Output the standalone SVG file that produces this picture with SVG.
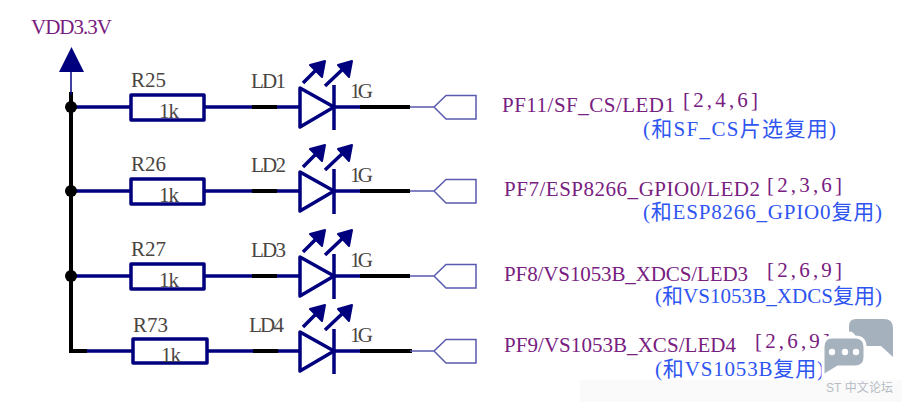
<svg xmlns="http://www.w3.org/2000/svg" xmlns:xlink="http://www.w3.org/1999/xlink" width="902" height="402" viewBox="0 0 902 402">
<style>
text{font-family:"Liberation Serif","Noto Sans CJK SC",serif;font-size:21px}
.n{fill:#78207f}.b{fill:#2f55f0}.l{fill:#4a4542}
.w{stroke:#00007f;stroke-width:3.500;fill:none}
.k{stroke:#000;stroke-width:4;fill:none}
.t{stroke:#5a5aae;stroke-width:1.500;fill:none}
.part{stroke:#00007f;stroke-width:3.500;fill:#fff;stroke-linejoin:round}
.h{fill:#00007f;stroke:#00007f;stroke-width:2;stroke-linejoin:round}
</style>
<defs>
<g id="led">
<path class="part" d="M300 -19L334 0L300 20Z"/>
<path class="w" d="M334 -22V23"/>
<path class="w" d="M303 -24L318 -39M325 -21L344 -39"/>
<path class="h" d="M325 -46L310 -42L322 -30ZM352 -46L338 -42L349 -30Z"/>
</g>
<path id="port" class="t" d="M410 0H434L446 -11.500H476V12H446L434 0"/>
</defs>
<rect width="902" height="402" fill="#fff"/>
<rect x="580" y="380" width="322" height="22" fill="#fafafa"/>
<g id="connectors">
<path class="w" d="M71 107H131M204 107H300M334 107H360"/>
<path class="w" d="M71 191H131M204 191H300M334 191H360"/>
<path class="w" d="M71 276H131M204 276H300M334 276H360"/>
<path class="w" d="M87 351H133M207 351H300M334 351H360"/>
<path class="k" d="M71 92V351H87"/>
<path class="k" d="M252 107H277M360 107H410M252 191H277M360 191H410M252 276H277M360 276H410M253 351H278M360 351H412"/>
<path stroke="#00007f" stroke-width="1.500" fill="none" d="M71 72V95"/>
<circle cx="71" cy="107" r="6"/><circle cx="71" cy="191" r="6"/><circle cx="71" cy="276" r="6"/>
</g>
<g id="vdd">
<path fill="#00007f" d="M71.500 47L59 72H84Z"/>
<text class="n" x="31" y="34" textLength="81">VDD3.3V</text>
</g>
<g id="R25"><rect class="part" x="131" y="95" width="73" height="25"/><text class="l" x="131" y="87" textLength="35">R25</text><text class="l" x="159" y="118" textLength="20">1k</text></g>
<g id="R26"><rect class="part" x="131" y="179" width="73" height="25"/><text class="l" x="131" y="171" textLength="35">R26</text><text class="l" x="159" y="202" textLength="20">1k</text></g>
<g id="R27"><rect class="part" x="131" y="264" width="73" height="25"/><text class="l" x="131" y="256" textLength="35">R27</text><text class="l" x="159" y="287" textLength="20">1k</text></g>
<g id="R73"><rect class="part" x="133" y="339" width="74" height="24"/><text class="l" x="133" y="332" textLength="35">R73</text><text class="l" x="161" y="362" textLength="20">1k</text></g>
<g id="LD1"><use xlink:href="#led" href="#led" y="107"/><text class="l" x="251" y="88" textLength="35">LD1</text><text class="l" x="350" y="98" textLength="23">1G</text></g>
<g id="LD2"><use xlink:href="#led" href="#led" y="191"/><text class="l" x="251" y="172" textLength="35">LD2</text><text class="l" x="350" y="182" textLength="23">1G</text></g>
<g id="LD3"><use xlink:href="#led" href="#led" y="276"/><text class="l" x="251" y="257" textLength="35">LD3</text><text class="l" x="350" y="267" textLength="23">1G</text></g>
<g id="LD4"><use xlink:href="#led" href="#led" y="351"/><text class="l" x="249" y="332" textLength="35">LD4</text><text class="l" x="350" y="342" textLength="23">1G</text></g>
<g id="port1"><use xlink:href="#port" href="#port" y="107"/><text class="n" x="502" y="112" textLength="173">PF11/SF_CS/LED1</text><text class="n" x="683" y="107" textLength="75">[2,4,6]</text><text class="b" x="643" y="136" textLength="193">(和SF_CS片选复用)</text></g>
<g id="port2"><use xlink:href="#port" href="#port" y="191"/><text class="n" x="504" y="196" textLength="256">PF7/ESP8266_GPIO0/LED2</text><text class="n" x="767" y="192" textLength="75">[2,3,6]</text><text class="b" x="643" y="219" textLength="239">(和ESP8266_GPIO0复用)</text></g>
<g id="port3"><use xlink:href="#port" href="#port" y="276"/><text class="n" x="504" y="281" textLength="244">PF8/VS1053B_XDCS/LED3</text><text class="n" x="767" y="277" textLength="75">[2,6,9]</text><text class="b" x="655" y="303" textLength="227">(和VS1053B_XDCS复用)</text></g>
<g id="port4"><use xlink:href="#port" href="#port" y="351"/><text class="n" x="504" y="352" textLength="232">PF9/VS1053B_XCS/LED4</text><text class="n" x="755" y="348" textLength="75">[2,6,9]</text><text class="b" x="655" y="376" textLength="169">(和VS1053B复用)</text></g>
<g id="watermark">
<path fill="#a6b1be" d="M856 319H884Q893 319 893 328V357L881 346H858C858 336 852 330 849 332V326Q849 319 856 319Z"/>
<path fill="#a6b1be" stroke="#fff" stroke-width="3" d="M832 337H855Q865 337 865 347V357Q865 367 855 367H838L823 376V347Q823 337 832 337Z"/>
<circle cx="832" cy="352" r="3.200" fill="#fff"/><circle cx="845" cy="352" r="3.200" fill="#fff"/><circle cx="856" cy="352" r="3.200" fill="#fff"/>
<text x="826" y="392" textLength="67" style="font-family:'Liberation Sans','Noto Sans CJK SC',sans-serif;font-size:12px" fill="#b5bcc5">ST 中文论坛</text>
</g>
</svg>
